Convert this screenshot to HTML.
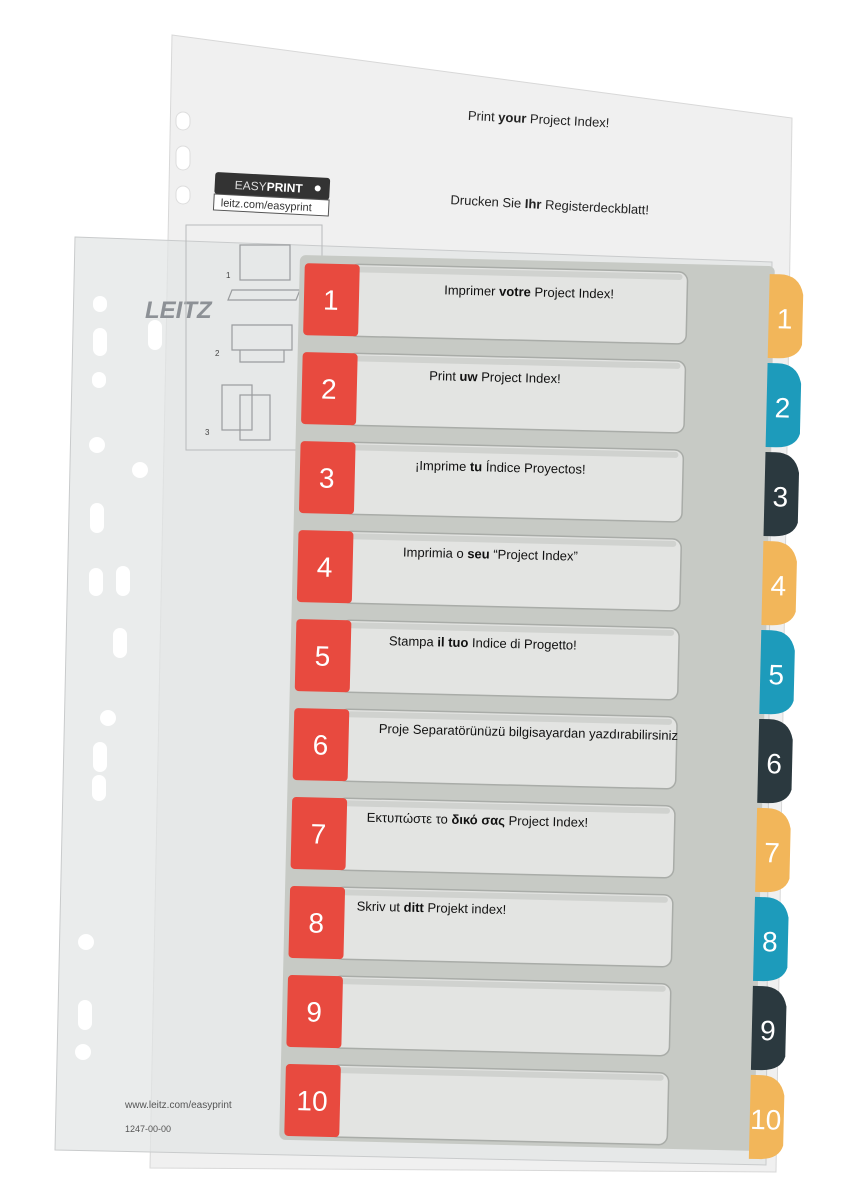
<!DOCTYPE html>
<html><head><meta charset="utf-8">
<style>
html,body{margin:0;padding:0;background:#fff;}
body{width:862px;height:1200px;overflow:hidden;position:relative;font-family:"Liberation Sans",sans-serif;}
svg{position:absolute;left:0;top:0;}
</style></head><body>
<svg width="862" height="1200" viewBox="0 0 862 1200">
  <polygon points="172,35 792,118 776,1172 150,1168" fill="#f0f0f0" stroke="#d8d8d8"/>
  <g fill="#fff" stroke="#ddd">
    <rect x="176" y="112" width="14" height="18" rx="7"/>
    <rect x="176" y="146" width="14" height="24" rx="7"/>
    <rect x="176" y="186" width="14" height="18" rx="7"/>
  </g>
  <g font-size="13" fill="#222" transform="rotate(3 470 115)">
    <text x="468" y="120">Print <tspan font-weight="bold">your</tspan> Project Index!</text>
    <text x="455" y="205">Drucken Sie <tspan font-weight="bold">Ihr</tspan> Registerdeckblatt!</text>
  </g>
  <g transform="rotate(3 215 180)">
    <rect x="215" y="172" width="115" height="22" rx="3" fill="#333"/>
    <text x="235" y="188" font-size="12" fill="#ddd">EASY<tspan font-weight="bold" fill="#fff">PRINT</tspan></text>
    <circle cx="318" cy="183" r="3" fill="#fff"/>
    <rect x="215" y="194" width="115" height="16" fill="#fff" stroke="#555"/>
    <text x="222" y="206" font-size="11" fill="#333">leitz.com/easyprint</text>
  </g>
  <polygon points="75,237 772,262 766,1165 55,1150" fill="#e2e4e5" fill-opacity="0.72" stroke="#c9cbcc"/>
  <g fill="#fff">
    <rect x="93" y="296" width="14" height="16" rx="7"/>
    <rect x="93" y="328" width="14" height="28" rx="7"/>
    <rect x="148" y="320" width="14" height="30" rx="7"/>
    <rect x="92" y="372" width="14" height="16" rx="7"/>
    <circle cx="97" cy="445" r="8"/>
    <rect x="90" y="503" width="14" height="30" rx="7"/>
    <rect x="89" y="568" width="14" height="28" rx="7"/>
    <rect x="116" y="566" width="14" height="30" rx="7"/>
    <rect x="113" y="628" width="14" height="30" rx="7"/>
    <circle cx="108" cy="718" r="8"/>
    <rect x="93" y="742" width="14" height="30" rx="7"/>
    <rect x="92" y="775" width="14" height="26" rx="7"/>
    <circle cx="86" cy="942" r="8"/>
    <rect x="78" y="1000" width="14" height="30" rx="7"/>
    <circle cx="83" cy="1052" r="8"/>
    <circle cx="140" cy="470" r="8"/>
  </g>
  <text x="145" y="318" font-size="24" font-weight="bold" fill="#8d9196" font-style="italic">LEITZ</text>
  <rect x="186" y="225" width="136" height="225" fill="none" stroke="#b8babb"/>
  <g fill="none" stroke="#9a9c9e" stroke-width="1.2">
    <rect x="240" y="245" width="50" height="35"/>
    <path d="M232,290 L300,290 L296,300 L228,300 Z"/>
    <path d="M232,325 h60 v25 h-60 z M240,350 h44 v12 h-44 z"/>
    <rect x="222" y="385" width="30" height="45"/>
    <rect x="240" y="395" width="30" height="45"/>
  </g>
  <text x="226" y="278" font-size="8" fill="#444">1</text>
  <text x="215" y="356" font-size="8" fill="#444">2</text>
  <text x="205" y="435" font-size="8" fill="#444">3</text>
  <text x="125" y="1108" font-size="10" fill="#555">www.leitz.com/easyprint</text>
  <text x="125" y="1132" font-size="9" fill="#555">1247-00-00</text>

  <g transform="translate(300,255) rotate(1.35)">
    <rect x="0" y="0" width="475" height="885" rx="6" fill="#c7cac5"/>
    <g>
      <path d="M470,8 h10 q20,0 24,20 v50 q-4,14 -24,14 h-10 z" fill="#f2b65a"/>
      <path d="M470,97 h10 q20,0 24,20 v50 q-4,14 -24,14 h-10 z" fill="#1d9bbb"/>
      <path d="M470,186 h10 q20,0 24,20 v50 q-4,14 -24,14 h-10 z" fill="#2b393f"/>
      <path d="M470,275 h10 q20,0 24,20 v50 q-4,14 -24,14 h-10 z" fill="#f2b65a"/>
      <path d="M470,364 h10 q20,0 24,20 v50 q-4,14 -24,14 h-10 z" fill="#1d9bbb"/>
      <path d="M470,453 h10 q20,0 24,20 v50 q-4,14 -24,14 h-10 z" fill="#2b393f"/>
      <path d="M470,542 h10 q20,0 24,20 v50 q-4,14 -24,14 h-10 z" fill="#f2b65a"/>
      <path d="M470,631 h10 q20,0 24,20 v50 q-4,14 -24,14 h-10 z" fill="#1d9bbb"/>
      <path d="M470,720 h10 q20,0 24,20 v50 q-4,14 -24,14 h-10 z" fill="#2b393f"/>
      <path d="M470,809 h10 q20,0 24,20 v50 q-4,14 -24,14 h-10 z" fill="#f2b65a"/>
    </g>
    <g font-size="28" fill="#fff" text-anchor="middle">
      <text x="486" y="62">1</text><text x="486" y="151">2</text><text x="486" y="240">3</text>
      <text x="486" y="329">4</text><text x="486" y="418">5</text><text x="486" y="507">6</text>
      <text x="486" y="596">7</text><text x="486" y="685">8</text><text x="486" y="774">9</text>
      <text x="486" y="863">10</text>
    </g>
    <g fill="#e3e4e2" stroke="#a9aca8" stroke-width="1.5">
      <rect x="50" y="8" width="338" height="72" rx="9"/>
      <rect x="50" y="97" width="338" height="72" rx="9"/>
      <rect x="50" y="186" width="338" height="72" rx="9"/>
      <rect x="50" y="275" width="338" height="72" rx="9"/>
      <rect x="50" y="364" width="338" height="72" rx="9"/>
      <rect x="50" y="453" width="338" height="72" rx="9"/>
      <rect x="50" y="542" width="338" height="72" rx="9"/>
      <rect x="50" y="631" width="338" height="72" rx="9"/>
      <rect x="50" y="720" width="338" height="72" rx="9"/>
      <rect x="50" y="809" width="338" height="72" rx="9"/>
    </g>
    <g fill="#d0d2cf">
      <rect x="55" y="10" width="328" height="6" rx="3"/>
      <rect x="55" y="99" width="328" height="6" rx="3"/>
      <rect x="55" y="188" width="328" height="6" rx="3"/>
      <rect x="55" y="277" width="328" height="6" rx="3"/>
      <rect x="55" y="366" width="328" height="6" rx="3"/>
      <rect x="55" y="455" width="328" height="6" rx="3"/>
      <rect x="55" y="544" width="328" height="6" rx="3"/>
      <rect x="55" y="633" width="328" height="6" rx="3"/>
      <rect x="55" y="722" width="328" height="6" rx="3"/>
      <rect x="55" y="811" width="328" height="6" rx="3"/>
    </g>
    <g fill="#e84a3f">
      <rect x="5" y="8" width="55" height="72" rx="4"/>
      <rect x="5" y="97" width="55" height="72" rx="4"/>
      <rect x="5" y="186" width="55" height="72" rx="4"/>
      <rect x="5" y="275" width="55" height="72" rx="4"/>
      <rect x="5" y="364" width="55" height="72" rx="4"/>
      <rect x="5" y="453" width="55" height="72" rx="4"/>
      <rect x="5" y="542" width="55" height="72" rx="4"/>
      <rect x="5" y="631" width="55" height="72" rx="4"/>
      <rect x="5" y="720" width="55" height="72" rx="4"/>
      <rect x="5" y="809" width="55" height="72" rx="4"/>
    </g>
    <g font-size="28" fill="#fff" text-anchor="middle">
      <text x="32" y="54">1</text><text x="32" y="143">2</text><text x="32" y="232">3</text>
      <text x="32" y="321">4</text><text x="32" y="410">5</text><text x="32" y="499">6</text>
      <text x="32" y="588">7</text><text x="32" y="677">8</text><text x="32" y="766">9</text>
      <text x="32" y="855">10</text>
    </g>
    <g font-size="13" fill="#111">
      <text x="145" y="36">Imprimer <tspan font-weight="bold">votre</tspan> Project Index!</text>
      <text x="132" y="122">Print <tspan font-weight="bold">uw</tspan> Project Index!</text>
      <text x="120" y="212">¡Imprime <tspan font-weight="bold">tu</tspan> Índice Proyectos!</text>
      <text x="110" y="299">Imprimia o <tspan font-weight="bold">seu</tspan> “Project Index”</text>
      <text x="98" y="388">Stampa <tspan font-weight="bold">il tuo</tspan> Indice di Progetto!</text>
      <text x="90" y="476">Proje Separatörünüzü bilgisayardan yazdırabilirsiniz</text>
      <text x="80" y="565">Εκτυπώστε το <tspan font-weight="bold">δικό σας</tspan> Project Index!</text>
      <text x="72" y="654">Skriv ut <tspan font-weight="bold">ditt</tspan> Projekt index!</text>
    </g>
  </g>
</svg>
</body></html>
